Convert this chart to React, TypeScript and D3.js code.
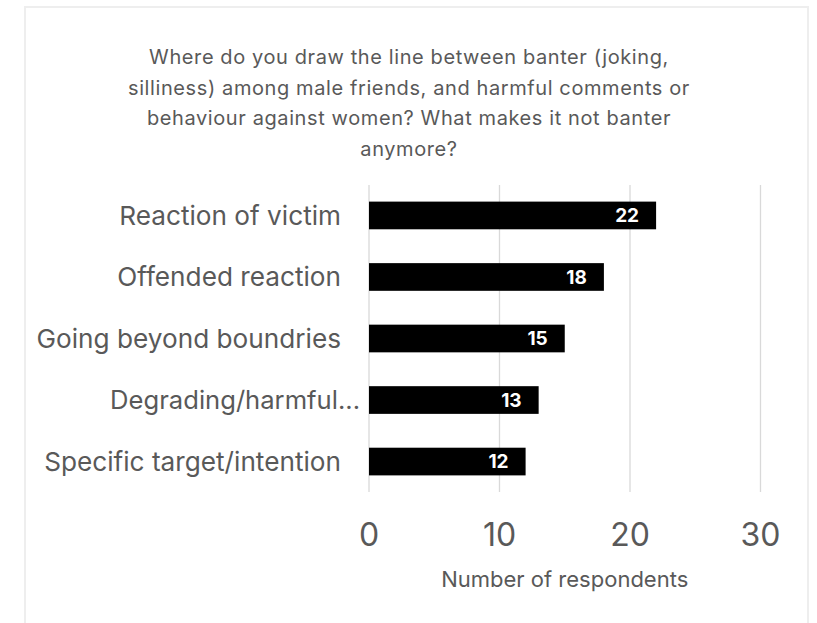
import React from "react";
import * as d3 from "d3";

const categories = [
  "Reaction of victim",
  "Offended reaction",
  "Going beyond boundries",
  "Degrading/harmful...",
  "Specific target/intention",
];
const values = [22, 18, 15, 13, 12];
const xTicks = [0, 10, 20, 30];
const titleLines = [
  "Where do you draw the line between banter (joking,",
  "silliness) among male friends, and harmful comments or",
  "behaviour against women? What makes it not banter",
  "anymore?",
];
const axisTitle = "Number of respondents";

const W = 817;
const H = 623;
const FONT = "Inter, 'Open Sans', sans-serif";
const GRAY = "#595959";

export default function App() {
  const x = d3.scaleLinear().domain([0, 30]).range([369, 760.5]);
  const y = d3
    .scaleBand<string>()
    .domain(categories)
    .range([185, 492])
    .paddingInner(0.55)
    .paddingOuter(0.27);

  return (
    <div style={{ position: "fixed", left: 0, top: 0 }}>
      <svg width={W} height={H} style={{ display: "block", background: "#fff" }}>
        <rect x={25} y={7} width={783} height={H + 20} fill="#fff" stroke="#eeeeee" strokeWidth={2} />
        {titleLines.map((t, i) => (
          <text
            key={i}
            x={409}
            y={64 + i * 30.7}
            textAnchor="middle"
            fontFamily={FONT}
            fontSize={20}
            letterSpacing={0.6}
            fill={GRAY}
          >
            {t}
          </text>
        ))}
        {xTicks.map((t) => (
          <line key={t} x1={x(t)} x2={x(t)} y1={185} y2={492} stroke="#d9d9d9" strokeWidth={1.3} />
        ))}
        {categories.map((c, i) => {
          const truncated = c.endsWith("...");
          return (
            <g key={c}>
              <rect
                x={x(0)}
                y={y(c)!}
                width={x(values[i]) - x(0)}
                height={y.bandwidth()}
                fill="#000"
              />
              <text
                x={x(values[i]) - 17}
                y={y(c)! + y.bandwidth() / 2}
                dy="0.36em"
                textAnchor="end"
                fontFamily={FONT}
                fontWeight={700}
                fontSize={19}
                fill="#fff"
              >
                {values[i]}
              </text>
              <text
                x={truncated ? x(0) - 9 : x(0) - 28}
                y={y(c)! + y.bandwidth() / 2}
                dy="0.36em"
                textAnchor="end"
                fontFamily={FONT}
                fontSize={truncated ? 25.6 : 26.2}
                fill={GRAY}
              >
                {c}
              </text>
            </g>
          );
        })}
        {xTicks.map((t) => (
          <text
            key={"t" + t}
            x={x(t)}
            y={546}
            textAnchor="middle"
            fontFamily={FONT}
            fontSize={32}
            fill={GRAY}
          >
            {t}
          </text>
        ))}
        <text
          x={(x(0) + x(30)) / 2}
          y={587}
          textAnchor="middle"
          fontFamily={FONT}
          fontSize={22}
          fill={GRAY}
        >
          {axisTitle}
        </text>
      </svg>
    </div>
  );
}
